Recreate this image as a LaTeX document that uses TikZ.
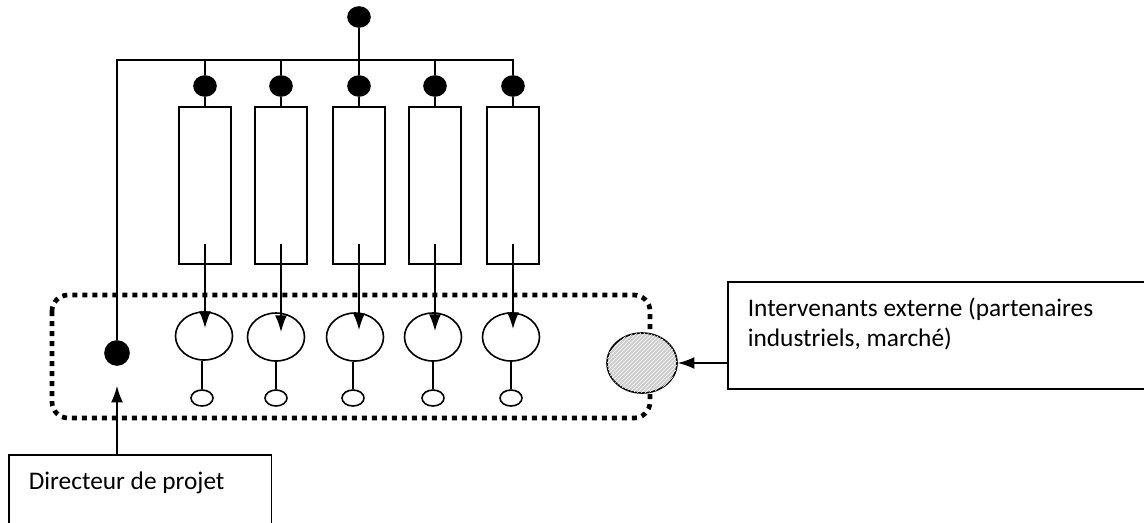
\documentclass[tikz,border=0pt]{standalone}
\usepackage{fontspec}
\setmainfont{Carlito}
\usetikzlibrary{calc,patterns,shapes.geometric,arrows.meta}
\tikzset{
  blob/.style={draw, fill=black, ellipse, inner sep=0, minimum width=16.5pt, minimum height=15pt},
  bar/.style={draw, rectangle, inner sep=0, minimum width=39pt, minimum height=117.75pt},
  member/.style={draw, ellipse, inner sep=0, minimum width=42.75pt, minimum height=36pt},
  tail/.style={draw, ellipse, inner sep=0, minimum width=16.5pt, minimum height=12pt},
  arr/.style={-{Latex[length=12.5pt,width=9pt]}},
  team/.style={line width=3.5pt, dash pattern=on 3.75pt off 3.75pt, rounded corners=12pt},
  legend/.style={draw, rectangle, inner sep=0, font=\fontsize{19}{22.5}\selectfont},
}
\newcommand{\boxtext}[3]{\parbox[c][#1][t]{#2}{\vspace*{12.5pt}\leftskip=15pt #3}}

\begin{document}
\begin{tikzpicture}[x=0.75pt, y=-0.75pt, line width=1.2pt]
			%%%%% START %%%%%
			\clip (0,0) rectangle (1144,522);
			\useasboundingbox (0,0) rectangle (1144,522);
			
			\draw[team] (52,295) rectangle (650,418);
			
			\node[blob] (top) at (359,17) {};
			\coordinate (bus) at (359,60);
			
			\node[blob] (d1) at (205,86) {};
			\node[blob] (d2) at (281,86) {};
			\node[blob] (d3) at (359,86) {};
			\node[blob] (d4) at (435,86) {};
			\node[blob] (d5) at (513,86) {};
			
			\node[bar] (r1) at (205,185.5) {};
			\node[bar] (r2) at (281,185.5) {};
			\node[bar] (r3) at (359,185.5) {};
			\node[bar] (r4) at (435,185.5) {};
			\node[bar] (r5) at (513,185.5) {};
			
			\node[blob, minimum width=18pt, minimum height=18pt] (ld) at (117,353) {};
			
			\draw (top) -- (d3);
			\draw (ld) -- (ld |- bus) -- (bus -| d5) -- (d5);
			\draw (d1) -- (d1 |- bus);
			\draw (d2) -- (d2 |- bus);
			\draw (d4) -- (d4 |- bus);
			\draw (d1) -- (r1);
			\draw (d2) -- (r2);
			\draw (d3) -- (r3);
			\draw (d4) -- (r4);
			\draw (d5) -- (r5);
			
			\node[member] (c1) at (204,336) {};
			\node[member] (c2) at (276,337) {};
			\node[member] (c3) at (355,337) {};
			\node[member] (c4) at (433,337) {};
			\node[member] (c5) at (511,337) {};
			
			\node[tail] (s1) at (202,398) {};
			\node[tail] (s2) at (276,398) {};
			\node[tail] (s3) at (353,398) {};
			\node[tail] (s4) at (433,398) {};
			\node[tail] (s5) at (511,398) {};
			
			\draw (c1.south -| s1) -- (s1);
			\draw (c2) -- (s2);
			\draw (c3.south -| s3) -- (s3);
			\draw (c4) -- (s4);
			\draw (c5) -- (s5);
			
			\draw[arr] ($(r1.south)+(0,-21)$) -- ($(r1.south |- c1.center)+(0,-8)$);
			\draw[arr] ($(r2.south)+(0,-21)$) -- ($(r2.south |- c2.center)+(0,-5)$);
			\draw[arr] ($(r3.south)+(0,-21)$) -- ($(r3.south |- c3.center)+(0,-7)$);
			\draw[arr] ($(r4.south)+(0,-21)$) -- ($(r4.south |- c4.center)+(0,-6)$);
			\draw[arr] ($(r5.south)+(0,-21)$) -- ($(r5.south |- c5.center)+(0,-8)$);
			
			\node[draw, ellipse, inner sep=0, minimum width=52.5pt, minimum height=45pt, fill=gray!40, postaction={pattern=north east lines, pattern color=white}] (ext) at (642,363) {};
			
			\node[legend, anchor=north west] (extbox) at (727,281) {\boxtext{80.25pt}{345pt}{Intervenants externe (partenaires\\industriels, marché)}};
			\draw[arr] (ext.east -| extbox.west) -- (ext.east);
			
			\node[legend, anchor=north west] (dirbox) at (8,454) {\boxtext{60pt}{197pt}{Directeur de projet}};
			\draw[arr] (dirbox.north -| ld) -- ($(ld.south)+(0,20)$);
			%%%%% END %%%%%
		\end{tikzpicture}
\end{document}
